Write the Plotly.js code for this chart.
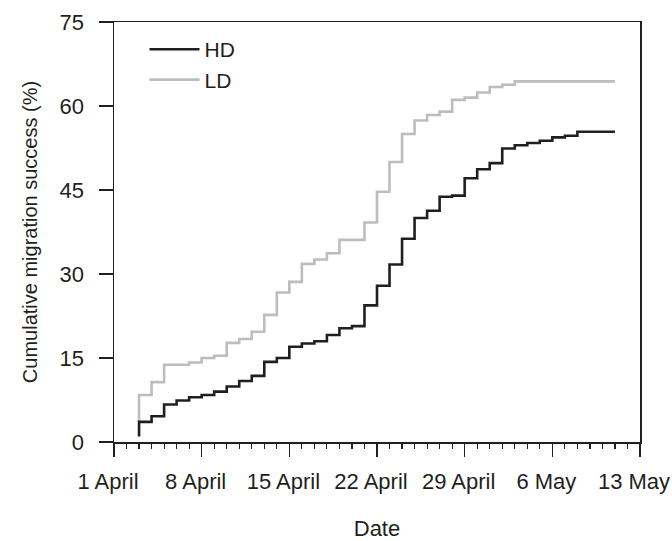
<!DOCTYPE html>
<html>
<head>
<meta charset="utf-8">
<script src="https://cdn.plot.ly/plotly-3.0.1.min.js"></script>
<style>
  html, body { margin: 0; padding: 0; background: #ffffff; }
  #chart { width: 672px; height: 541px; }
</style>
</head>
<body>
<div id="chart"></div>
<script>
// Dates of each step (first date repeated: the curve starts with an initial jump)
var dates = [
  '2013-04-03', '2013-04-03', '2013-04-04', '2013-04-05', '2013-04-06', '2013-04-07',
  '2013-04-08', '2013-04-09', '2013-04-10', '2013-04-11', '2013-04-12', '2013-04-13',
  '2013-04-14', '2013-04-15', '2013-04-16', '2013-04-17', '2013-04-18', '2013-04-19',
  '2013-04-20', '2013-04-21', '2013-04-22', '2013-04-23', '2013-04-24', '2013-04-25',
  '2013-04-26', '2013-04-27', '2013-04-28', '2013-04-29', '2013-04-30', '2013-05-01',
  '2013-05-02', '2013-05-03', '2013-05-04', '2013-05-05', '2013-05-06', '2013-05-07',
  '2013-05-08', '2013-05-09', '2013-05-10', '2013-05-11'
];

// Cumulative migration success (%), high density
var hdValues = [
  1.0, 3.6, 4.6, 6.7, 7.4, 8.0, 8.4, 9.0, 9.9, 10.9, 11.8, 14.3,
  15.0, 17.0, 17.6, 18.0, 19.1, 20.3, 20.7, 24.4, 27.9, 31.7, 36.3, 40.0,
  41.3, 43.8, 44.0, 47.1, 48.7, 49.8, 52.4, 53.0, 53.4, 53.8, 54.4, 54.7,
  55.4, 55.4, 55.4, 55.4
];

// Cumulative migration success (%), low density
var ldValues = [
  3.6, 8.4, 10.7, 13.8, 13.8, 14.2, 15.0, 15.4, 17.7, 18.4, 19.7, 22.7,
  26.7, 28.6, 31.8, 32.6, 33.7, 36.1, 36.1, 39.2, 44.7, 50.0, 55.0, 57.4,
  58.4, 59.0, 61.1, 61.5, 62.4, 63.4, 63.8, 64.4, 64.4, 64.4, 64.4, 64.4,
  64.4, 64.4, 64.4, 64.4
];

var seriesNames = ['HD', 'LD'];

var xTickVals = ['2013-04-01', '2013-04-08', '2013-04-15', '2013-04-22', '2013-04-29', '2013-05-06', '2013-05-13'];
var xTickText = ['1 April', '8 April', '15 April', '22 April', '29 April', '6 May', '13 May'];
var yTickVals = [0, 15, 30, 45, 60, 75];

var FONT = '"Liberation Sans", Arial, Helvetica, sans-serif';
var INK = '#231f20';

var traces = [
  {
    x: dates, y: ldValues, name: seriesNames[1], type: 'scatter', mode: 'lines',
    line: { shape: 'hv', color: '#bdbdbd', width: 2.6 }
  },
  {
    x: dates, y: hdValues, name: seriesNames[0], type: 'scatter', mode: 'lines',
    line: { shape: 'hv', color: '#1f1f1f', width: 2.6 }
  }
];

var layout = {
  width: 672, height: 541,
  margin: { l: 114, r: 32, t: 22, b: 98.5, pad: 0 },
  paper_bgcolor: '#ffffff', plot_bgcolor: '#ffffff',
  font: { family: FONT, size: 22, color: INK },
  showlegend: true,
  legend: {
    x: 0.058, y: 0.983, xanchor: 'left', yanchor: 'top',
    traceorder: 'reversed',
    bgcolor: 'rgba(0,0,0,0)', borderwidth: 0,
    font: { family: FONT, size: 21, color: INK },
    itemwidth: 50
  },
  xaxis: {
    type: 'date',
    range: ['2013-04-01', '2013-05-13'],
    tickmode: 'array', tickvals: xTickVals, ticktext: xTickText,
    ticks: 'outside', ticklen: 13, tickwidth: 1.5, tickcolor: INK,
    ticklabeloverflow: 'allow',
    ticklabelshift: -6,
    showline: true, mirror: true, linecolor: INK, linewidth: 1.5,
    showgrid: false, zeroline: false,
    tickfont: { family: FONT, size: 22, color: INK },
    ticklabelstandoff: 6,
    minor: { ticks: 'outside', ticklen: 5, tickwidth: 1.2, tickcolor: INK,
             dtick: 86400000, tick0: '2013-04-01', showgrid: false },
    title: { text: 'Date', font: { family: FONT, size: 22, color: INK }, standoff: 28 },
    automargin: false
  },
  yaxis: {
    range: [0, 75],
    tickmode: 'array', tickvals: yTickVals,
    ticks: 'outside', ticklen: 14, tickwidth: 1.5, tickcolor: INK,
    showline: true, mirror: true, linecolor: INK, linewidth: 1.5,
    showgrid: false, zeroline: false,
    tickfont: { family: FONT, size: 22, color: INK },
    ticklabelstandoff: 10,
    title: { text: 'Cumulative migration success (%)', font: { family: FONT, size: 20, color: INK }, standoff: 16 },
    automargin: false
  }
};

Plotly.newPlot('chart', traces, layout, { displayModeBar: false, staticPlot: true });
</script>
</body>
</html>
